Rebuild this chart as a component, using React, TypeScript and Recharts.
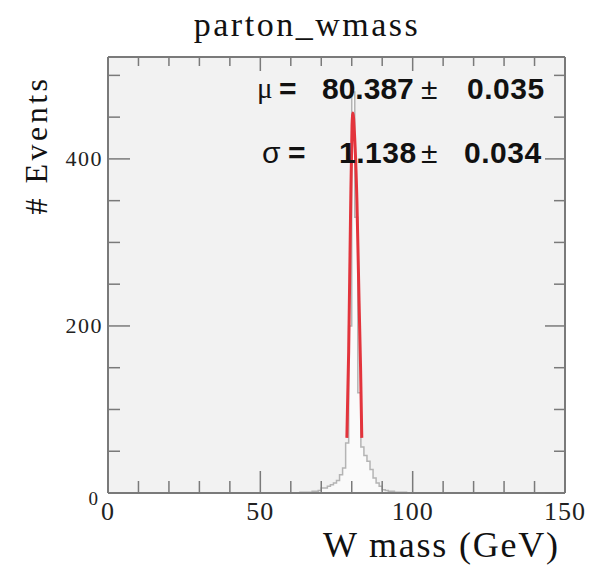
import { Area, CartesianGrid, ComposedChart, Line, XAxis, YAxis } from 'recharts';

const MASS_TICKS = [0, 10, 20, 30, 40, 50, 60, 70, 80, 90, 100, 110, 120, 130, 140, 150];
const MASS_LABELS = [0, 50, 100, 150];
const EVENT_TICKS = [0, 50, 100, 150, 200, 250, 300, 350, 400, 450, 500];
const EVENT_LABELS = [0, 200, 400];

// histogram, 1 GeV bins (left edge -> count)
const BIN_EDGES = [
  60, 61, 62, 63, 64, 65, 66, 67, 68, 69, 70, 71, 72, 73, 74, 75, 76, 77, 78, 79,
  80, 81, 82, 83, 84, 85, 86, 87, 88, 89, 90, 91, 92, 93, 94, 95, 96, 97, 98, 99, 100
];
const BIN_COUNTS = [
  0, 0, 0, 1, 1, 1, 1, 2, 2, 3, 6, 6, 8, 10, 12, 15, 22, 30, 60, 200,
  480, 330, 120, 55, 45, 38, 28, 18, 12, 8, 4, 3, 2, 2, 1, 1, 1, 1, 0, 0, 0
];

// gaussian fit curve
const FIT_MASS = [78.4, 79.0, 79.6, 80.1, 80.4, 80.9, 81.7, 82.4, 82.9, 83.3];
const FIT_EVENTS = [66, 170, 330, 440, 455, 430, 350, 230, 150, 66];

const histData = BIN_EDGES.map((x, i) => ({ x, count: BIN_COUNTS[i] }));
const fitData = FIT_MASS.map((x, i) => ({ x, fit: FIT_EVENTS[i] }));

const FRAME = '#7a7a7a';
const SERIF = '"Liberation Serif", "DejaVu Serif", serif';
const SANS = '"Liberation Sans", Arial, sans-serif';

function BottomTick(props: any) {
  const { x, y, payload } = props;
  const major = MASS_LABELS.includes(payload.value);
  return (
    <g>
      <line x1={x} y1={y} x2={x} y2={y - (major ? 22 : 12)} stroke={FRAME} strokeWidth={1.5} />
      {major && (
        <text x={x} y={y + 27} textAnchor="middle" fontFamily={SERIF} fontSize={26} letterSpacing={1} fill="#222">
          {payload.value}
        </text>
      )}
    </g>
  );
}

function TopTick(props: any) {
  const { x, y, payload } = props;
  const major = MASS_LABELS.includes(payload.value);
  return <line x1={x} y1={y} x2={x} y2={y + (major ? 14 : 9)} stroke={FRAME} strokeWidth={1.5} />;
}

function LeftTick(props: any) {
  const { x, y, payload } = props;
  const major = EVENT_LABELS.includes(payload.value);
  const zero = payload.value === 0;
  return (
    <g>
      <line x1={x} y1={y} x2={x + (major ? 22 : 12)} y2={y} stroke={FRAME} strokeWidth={1.5} />
      {major && (
        <text
          x={x - (zero ? 10 : 5)}
          y={y + (zero ? 12 : 7)}
          textAnchor="end"
          fontFamily={SERIF}
          fontSize={zero ? 19 : 22}
          letterSpacing={zero ? 0 : 1.5}
          fill="#222"
        >
          {payload.value}
        </text>
      )}
    </g>
  );
}

function RightTick(props: any) {
  const { x, y, payload } = props;
  const major = EVENT_LABELS.includes(payload.value);
  return <line x1={x} y1={y} x2={x - (major ? 20 : 11)} y2={y} stroke={FRAME} strokeWidth={1.5} />;
}

const txt = (left: number, top: number, size: number, bold = true, font = SANS) => ({
  position: 'absolute' as const,
  left,
  top,
  fontFamily: font,
  fontSize: size,
  fontWeight: bold ? 700 : 400,
  color: '#111',
  lineHeight: 1,
  whiteSpace: 'nowrap' as const
});

export default function App() {
  return (
    <div style={{ position: 'relative', width: 585, height: 570, background: '#fff' }}>
      <div style={{ ...txt(0, 0, 34, false, SERIF), width: 598, textAlign: 'center', letterSpacing: 2.5 }}>
        parton_wmass
      </div>
      <div
        style={{
          ...txt(0, 0, 32, false, SERIF),
          left: 28,
          top: 137,
          letterSpacing: 3.5,
          transform: 'translate(-50%, -50%) rotate(-90deg)'
        }}
      >
        # Events
      </div>
      <div style={{ ...txt(315, 519, 36, false, SERIF), letterSpacing: 1.8 }}>W mass (GeV)</div>

      <ComposedChart width={585} height={570} data={histData} margin={{ top: 48, right: 27, bottom: 45, left: 60 }}>
        <CartesianGrid fill="#f2f2f2" horizontal={false} vertical={false} />
        <XAxis
          xAxisId="b"
          type="number"
          dataKey="x"
          domain={[0, 150]}
          ticks={MASS_TICKS}
          interval={0}
          allowDataOverflow
          height={40}
          tickSize={0}
          tickMargin={0}
          tickLine={false}
          tick={<BottomTick />}
          axisLine={{ stroke: FRAME, strokeWidth: 2 }}
        />
        <XAxis
          xAxisId="t"
          orientation="top"
          type="number"
          dataKey="x"
          domain={[0, 150]}
          ticks={MASS_TICKS}
          interval={0}
          allowDataOverflow
          height={1}
          tickSize={0}
          tickMargin={0}
          tickLine={false}
          tick={<TopTick />}
          axisLine={{ stroke: FRAME, strokeWidth: 2 }}
        />
        <YAxis
          yAxisId="l"
          type="number"
          domain={[0, 522]}
          ticks={EVENT_TICKS}
          interval={0}
          allowDataOverflow
          width={40}
          tickSize={0}
          tickMargin={0}
          tickLine={false}
          tick={<LeftTick />}
          axisLine={{ stroke: FRAME, strokeWidth: 2 }}
        />
        <YAxis
          yAxisId="r"
          orientation="right"
          type="number"
          domain={[0, 522]}
          ticks={EVENT_TICKS}
          interval={0}
          allowDataOverflow
          width={1}
          tickSize={0}
          tickMargin={0}
          tickLine={false}
          tick={<RightTick />}
          axisLine={{ stroke: FRAME, strokeWidth: 2 }}
        />
        <Area
          xAxisId="b"
          yAxisId="l"
          data={histData}
          dataKey="count"
          type="stepAfter"
          stroke="#b4b4b4"
          strokeWidth={1.5}
          fill="#fafafa"
          fillOpacity={1}
          isAnimationActive={false}
        />
        <Line
          xAxisId="b"
          yAxisId="l"
          data={fitData}
          dataKey="fit"
          type="monotone"
          stroke="#e3343c"
          strokeWidth={3}
          dot={false}
          isAnimationActive={false}
        />
      </ComposedChart>

      <div style={txt(249, 66, 29, false, SERIF)}>μ</div>
      <div style={txt(271, 66, 30)}>=</div>
      <div style={txt(314, 66, 30)}>80.387</div>
      <div style={txt(413, 66, 30, false)}>±</div>
      <div style={{ ...txt(459, 66, 30), letterSpacing: 0.5 }}>0.035</div>

      <div style={txt(254, 130, 30, false)}>σ</div>
      <div style={txt(280, 130, 30)}>=</div>
      <div style={{ ...txt(331, 130, 30), letterSpacing: 0.5 }}>1.138</div>
      <div style={txt(413, 130, 30, false)}>±</div>
      <div style={{ ...txt(456, 130, 30), letterSpacing: 0.5 }}>0.034</div>
    </div>
  );
}
